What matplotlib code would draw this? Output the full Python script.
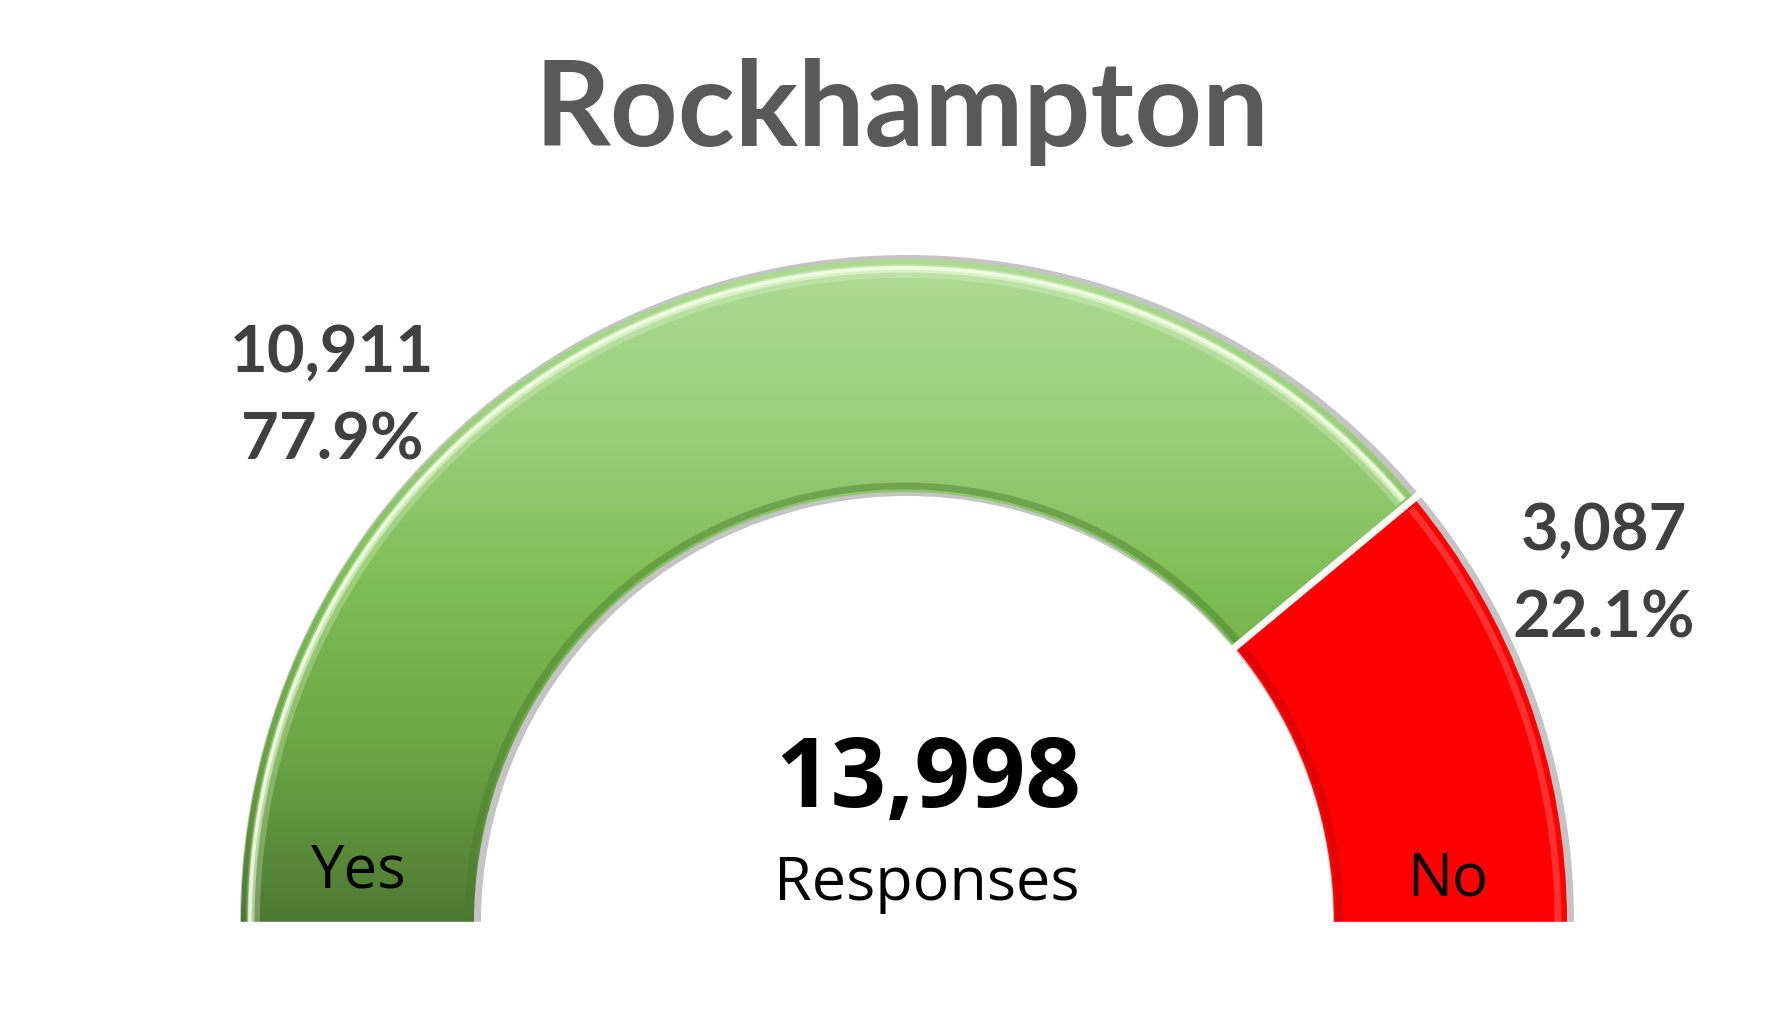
import numpy as np
import matplotlib
matplotlib.use("Agg")
import matplotlib.pyplot as plt
from matplotlib.patches import Wedge
from matplotlib.colors import LinearSegmentedColormap

# -----------------------------
# data
# -----------------------------
title = "Rockhampton"
categories = ["Yes", "No"]
counts = [10911, 3087]
total = sum(counts)
shares = [c / total * 100 for c in counts]

# -----------------------------
# layout (pixel space, y measured from the top)
# -----------------------------
W, H = 1784, 1033
cx, cy = 904, 922
R_out, R_in = 663, 430

fig = plt.figure(figsize=(W / 100, H / 100), dpi=100)
ax = fig.add_axes([0, 0, 1, 1])
ax.set_xlim(0, W)
ax.set_ylim(0, H)
ax.set_aspect("equal")
ax.axis("off")

def Y(y):
    return H - y

# angle where Yes ends / No starts
split = 180 - 180 * counts[0] / total

# grey shadow ring behind the gauge
shadow = Wedge((cx + 3, Y(cy)), R_out + 4, 0, 180, width=R_out - R_in + 8,
               facecolor="#c4c4c4", edgecolor="none", zorder=1)
ax.add_patch(shadow)

# Yes wedge with vertical green gradient
yes = Wedge((cx, Y(cy)), R_out, split, 180, width=R_out - R_in,
            facecolor="none", edgecolor="none", zorder=2)
ax.add_patch(yes)
green = LinearSegmentedColormap.from_list(
    "g", ["#4d7831", "#6aa443", "#7dbd55", "#9bd07b", "#addb93"])
grad = np.linspace(0, 1, 256).reshape(-1, 1)
img = ax.imshow(grad, cmap=green, origin="lower", aspect="auto",
                extent=[cx - R_out, cx + R_out, Y(cy), Y(cy) + R_out], zorder=2)
img.set_clip_path(yes)

# No wedge, flat red
no = Wedge((cx, Y(cy)), R_out, 0, split, width=R_out - R_in,
           facecolor="#ff0000", edgecolor="none", zorder=2)
ax.add_patch(no)

# bevel: soft light rim on the outside, dark rim on the inside
th_yes = np.radians(np.linspace(split + 0.5, 180, 200))
for off, lw, al in [(12, 10, 0.25), (10, 5, 0.5), (9, 2.5, 0.8)]:
    ax.plot(cx + (R_out - off) * np.cos(th_yes), Y(cy) + (R_out - off) * np.sin(th_yes),
            color="#f5ffe8", lw=lw, alpha=al, zorder=3, solid_capstyle="butt")
ax.plot(cx + (R_in + 6) * np.cos(th_yes), Y(cy) + (R_in + 6) * np.sin(th_yes),
        color="#4a7a2e", lw=5, alpha=0.45, zorder=3, solid_capstyle="butt")
th_no = np.radians(np.linspace(0, split - 0.5, 100))
ax.plot(cx + (R_out - 9) * np.cos(th_no), Y(cy) + (R_out - 9) * np.sin(th_no),
        color="#ff6060", lw=5, alpha=0.5, zorder=3, solid_capstyle="butt")
ax.plot(cx + (R_in + 6) * np.cos(th_no), Y(cy) + (R_in + 6) * np.sin(th_no),
        color="#c00000", lw=5, alpha=0.45, zorder=3, solid_capstyle="butt")

# white gap between the two segments
a = np.radians(split)
ax.plot([cx + (R_in - 5) * np.cos(a), cx + (R_out + 8) * np.cos(a)],
        [Y(cy) + (R_in - 5) * np.sin(a), Y(cy) + (R_out + 8) * np.sin(a)],
        color="white", lw=5, zorder=4)

# white strip under the base
ax.fill_between([cx - R_out - 20, cx + R_out + 20], Y(cy) - 40, Y(cy),
                color="white", zorder=5)

# -----------------------------
# text
# -----------------------------
lab = "Lato"
seg = "Open Sans"

ax.text(902, Y(146), title, ha="center", va="baseline", fontsize=85,
        fontweight="bold", family=lab, color="#595959")

ax.text(332, Y(372), f"{counts[0]:,}", ha="center", va="baseline", fontsize=47,
        fontweight="bold", family=lab, color="#404040")
ax.text(332, Y(460), f"{shares[0]:.1f}%", ha="center", va="baseline", fontsize=47,
        fontweight="bold", family=lab, color="#404040")
ax.text(1604, Y(550), f"{counts[1]:,}", ha="center", va="baseline", fontsize=47,
        fontweight="bold", family=lab, color="#404040")
ax.text(1604, Y(638), f"{shares[1]:.1f}%", ha="center", va="baseline", fontsize=47,
        fontweight="bold", family=lab, color="#404040")

ax.text(928, Y(807), f"{total:,}", ha="center", va="baseline", fontsize=70,
        fontweight="bold", family=seg, color="black")
ax.text(927, Y(900), "Responses", ha="center", va="baseline", fontsize=44,
        family=seg, color="black")

ax.text(359, Y(887), categories[0], ha="center", va="baseline", fontsize=43,
        family=seg, color="black", zorder=6)
ax.text(1448, Y(895), categories[1], ha="center", va="baseline", fontsize=43,
        family=seg, color="black", zorder=6)

fig.savefig("out.png", dpi=100, facecolor="white")
